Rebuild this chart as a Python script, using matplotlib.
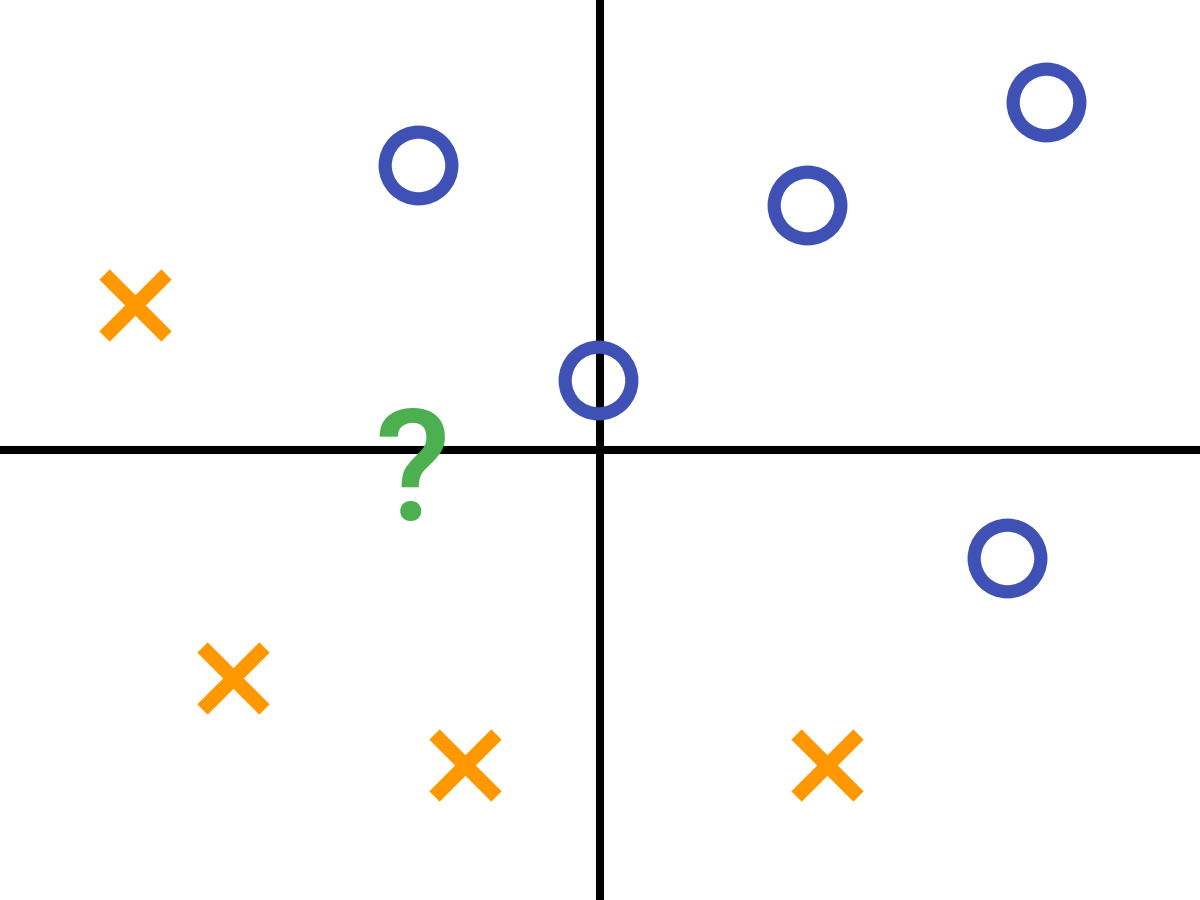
import matplotlib
matplotlib.use("Agg")
from matplotlib import pyplot as plt

# class A (circles), class B (crosses), unknown point
circle_x = [-1.82, 2.07, 4.46, -0.02, 4.07]
circle_y = [2.85, 2.45, 3.48, 0.70, -1.08]
cross_x = [-4.65, -3.67, -1.35, 2.27]
cross_y = [1.45, -2.28, -3.15, -3.15]
query_x = -1.88
query_y = -0.70

fig = plt.figure(figsize=(12, 9), dpi=100)
ax = fig.add_axes([0, 0, 1, 1])
ax.set_xlim(-6, 6)
ax.set_ylim(-4.5, 4.5)
ax.axis('off')

ax.axhline(0, color='black', lw=5.8, zorder=1)
ax.axvline(0, color='black', lw=5.8, zorder=1)

ax.plot(circle_x, circle_y, 'o', ms=48, mfc='none', mec='#3F51B5', mew=9.5, zorder=3)
ax.plot(cross_x, cross_y, 'x', ms=44, mec='#FF9800', mew=10.5, zorder=3)
ax.text(query_x, query_y, '?', color='#4CAF50', fontsize=112, fontweight='medium',
        family=['Roboto', 'DejaVu Sans'], ha='center', va='baseline', zorder=4)

fig.savefig('out.png')
